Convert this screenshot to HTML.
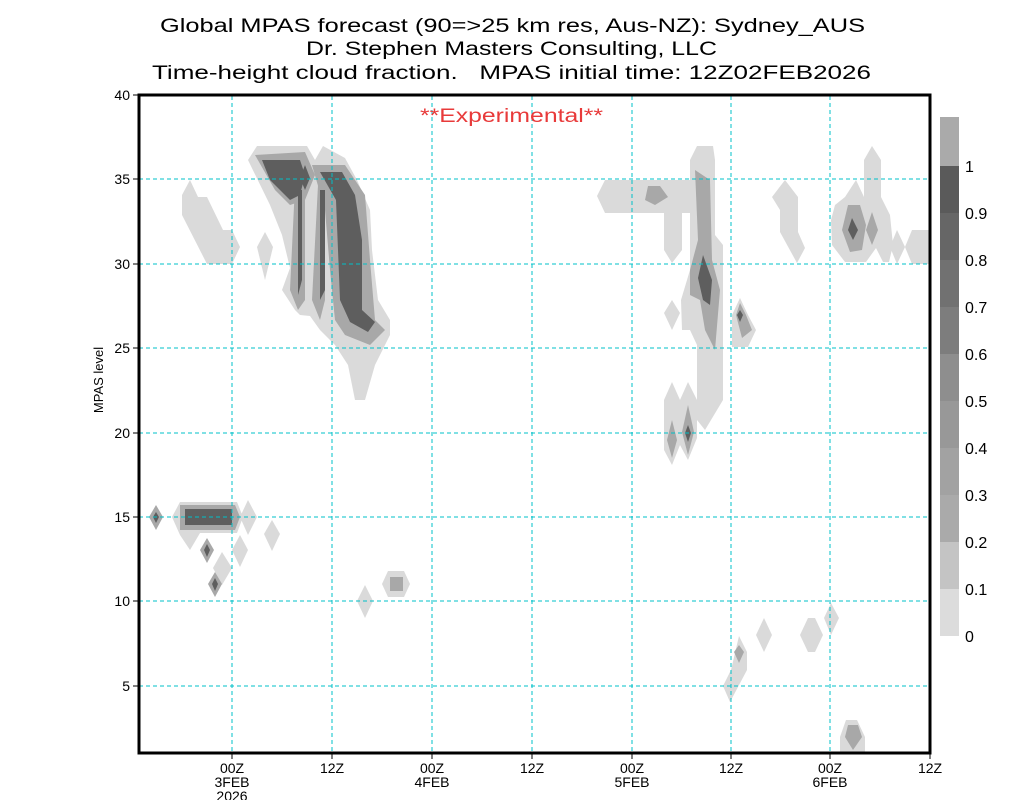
<!DOCTYPE html>
<html><head><meta charset="utf-8"><style>
body{margin:0;background:#fff;width:1024px;height:800px;overflow:hidden}
svg{display:block;font-family:"Liberation Sans",sans-serif}
</style></head><body>
<svg width="1024" height="800" viewBox="0 0 1024 800">
<g font-size="19" fill="#000">
<text x="160" y="32" textLength="705" lengthAdjust="spacingAndGlyphs">Global MPAS forecast (90=&gt;25 km res, Aus-NZ): Sydney_AUS</text>
<text x="306" y="55" textLength="411" lengthAdjust="spacingAndGlyphs">Dr. Stephen Masters Consulting, LLC</text>
<text x="152" y="79" textLength="719" lengthAdjust="spacingAndGlyphs" xml:space="preserve">Time-height cloud fraction.   MPAS initial time: 12Z02FEB2026</text>
</g>
<g stroke="none">
<g fill="#dadada">
<polygon points="182,195 190,180 198,197 207,197 223,230 232,230 240,247 232,264 207,264 182,215"/>
<polygon points="248,160 257,146 307,146 315,160 323,146 345,158 357,180 370,210 372,250 378,300 390,320 390,335 375,365 365,400 355,400 348,365 335,345 320,330 310,316 300,315 295,310 282,290 290,268 282,235 270,205"/>
<polygon points="265,232 273,247 265,280 257,247"/>
<polygon points="172,517 180,502 237,502 243,517 237,533 200,533 190,550 180,535"/>
<polygon points="248,500 257,517 248,535 240,517"/>
<polygon points="240,535 248,550 240,567 232,550"/>
<polygon points="222,552 232,568 222,585 213,568"/>
<polygon points="272,520 280,534 272,551 264,534"/>
<polygon points="365,585 373,601 365,618 357,601"/>
<polygon points="388,571 404,571 410,584 404,597 388,597 382,584"/>
<polygon points="597,196 605,180 690,180 690,213 682,213 682,250 672,263 664,250 664,213 605,213"/>
<polygon points="690,160 697,146 713,146 715,160 715,235 723,245 723,400 705,430 697,420 697,345 690,330 682,330 681,300 690,270 690,180"/>
<polygon points="672,300 680,313 672,330 664,313"/>
<polygon points="740,298 748,315 756,330 748,347 732,347 732,315"/>
<polygon points="664,400 672,382 680,400 688,382 697,400 697,438 688,460 680,445 672,465 664,450"/>
<polygon points="772,197 785,180 798,197 798,232 805,248 797,263 780,232 780,210"/>
<polygon points="835,205 845,197 856,180 864,197 864,160 872,146 881,160 881,197 890,215 893,245 889,262 883,262 876,248 866,262 845,262 832,245 831,220"/>
<polygon points="897,230 905,247 897,264 890,247"/>
<polygon points="912,230 930,230 930,264 912,264 905,247"/>
<polygon points="739,636 747,652 747,670 730,702 723,686 731,670"/>
<polygon points="764,618 772,635 764,652 756,635"/>
<polygon points="808,618 815,618 823,635 815,652 808,652 800,635"/>
<polygon points="831,603 839,618 831,635 824,618"/>
<polygon points="846,720 857,720 865,737 865,753 840,753 840,737"/>
<polygon points="620,190 630,180 650,180 655,196 645,208"/>
</g>
<g fill="#a8a8a8">
<polygon points="255,155 305,152 315,175 305,200 290,205 275,190"/>
<polygon points="312,165 345,165 365,195 370,260 375,320 385,330 370,345 345,335 335,320 330,270 325,210"/>
<polygon points="295,185 305,185 305,300 298,310 290,290"/>
<polygon points="318,185 325,185 325,300 320,320 312,300"/>
<polygon points="180,505 235,505 240,517 235,530 180,530"/>
<polygon points="156,505 163,517 156,530 149,517"/>
<polygon points="207,538 214,550 207,563 200,550"/>
<polygon points="215,572 222,584 215,597 208,584"/>
<polygon points="390,577 403,577 403,591 390,591"/>
<polygon points="695,170 710,180 712,260 720,290 715,350 705,330 700,300 690,295 690,270 698,240"/>
<polygon points="648,186 660,186 668,197 655,205 645,200"/>
<polygon points="740,303 746,315 752,330 742,338 736,315"/>
<polygon points="672,420 677,440 672,458 667,440"/>
<polygon points="688,405 694,432 688,455 682,432"/>
<polygon points="848,205 860,205 866,225 862,250 850,252 842,230"/>
<polygon points="872,212 878,230 872,245 866,230"/>
<polygon points="848,725 858,725 862,737 853,750 845,737"/>
<polygon points="739,645 744,652 739,663 734,652"/>
</g>
<g fill="#5e5e5e">
<polygon points="262,160 300,160 305,175 300,195 290,200 270,180"/>
<polygon points="305,165 310,178 305,190 300,178"/>
<polygon points="320,172 342,172 355,195 362,240 362,310 375,322 368,332 350,322 340,300 336,200"/>
<polygon points="298,190 302,190 302,280 298,295"/>
<polygon points="320,190 325,190 325,290 320,300"/>
<polygon points="185,509 232,509 232,525 185,525"/>
<polygon points="156,512 159,517 156,523 153,517"/>
<polygon points="207,544 210,550 207,557 204,550"/>
<polygon points="215,578 218,584 215,591 212,584"/>
<polygon points="703,255 712,280 710,305 703,300 698,278"/>
<polygon points="688,425 691,433 688,442 685,433"/>
<polygon points="852,218 858,230 853,240 848,230"/>
<polygon points="740,310 743,315 740,322 737,315"/>
</g>
</g>
<g stroke="#00c0c8" stroke-width="1" stroke-dasharray="4,3" fill="none">
<line x1="232" y1="96" x2="232" y2="753"/><line x1="332" y1="96" x2="332" y2="753"/>
<line x1="432" y1="96" x2="432" y2="753"/><line x1="532" y1="96" x2="532" y2="753"/>
<line x1="632" y1="96" x2="632" y2="753"/><line x1="731" y1="96" x2="731" y2="753"/>
<line x1="830" y1="96" x2="830" y2="753"/>
<line x1="139" y1="179" x2="930" y2="179"/><line x1="139" y1="264" x2="930" y2="264"/>
<line x1="139" y1="348" x2="930" y2="348"/><line x1="139" y1="433" x2="930" y2="433"/>
<line x1="139" y1="517" x2="930" y2="517"/><line x1="139" y1="601" x2="930" y2="601"/>
<line x1="139" y1="686" x2="930" y2="686"/>
</g>
<rect x="139" y="95" width="791" height="658" fill="none" stroke="#000" stroke-width="3"/>
<g stroke="#000" stroke-width="1">
<line x1="133" y1="95" x2="139" y2="95"/><line x1="133" y1="179" x2="139" y2="179"/><line x1="133" y1="264" x2="139" y2="264"/>
<line x1="133" y1="348" x2="139" y2="348"/><line x1="133" y1="433" x2="139" y2="433"/><line x1="133" y1="517" x2="139" y2="517"/>
<line x1="133" y1="601" x2="139" y2="601"/><line x1="133" y1="686" x2="139" y2="686"/>
<line x1="232" y1="753" x2="232" y2="759"/><line x1="332" y1="753" x2="332" y2="759"/><line x1="432" y1="753" x2="432" y2="759"/>
<line x1="532" y1="753" x2="532" y2="759"/><line x1="632" y1="753" x2="632" y2="759"/><line x1="731" y1="753" x2="731" y2="759"/>
<line x1="830" y1="753" x2="830" y2="759"/><line x1="930" y1="753" x2="930" y2="759"/>
</g>
<g font-size="14" text-anchor="end">
<text x="130" y="100">40</text><text x="130" y="184">35</text><text x="130" y="269">30</text><text x="130" y="353">25</text>
<text x="130" y="438">20</text><text x="130" y="522">15</text><text x="130" y="606">10</text><text x="130" y="691">5</text>
</g>
<text transform="translate(103,380) rotate(-90)" font-size="13" text-anchor="middle">MPAS level</text>
<g font-size="14" text-anchor="middle">
<text x="232" y="773">00Z</text><text x="232" y="787">3FEB</text><text x="232" y="801">2026</text>
<text x="332" y="773">12Z</text><text x="432" y="773">00Z</text><text x="432" y="787">4FEB</text>
<text x="532" y="773">12Z</text><text x="632" y="773">00Z</text><text x="632" y="787">5FEB</text>
<text x="731" y="773">12Z</text><text x="830" y="773">00Z</text><text x="830" y="787">6FEB</text>
<text x="930" y="773">12Z</text>
</g>
<text x="420" y="122" font-size="19" fill="#e83a3a" textLength="183" lengthAdjust="spacingAndGlyphs">**Experimental**</text>
<g>
<rect x="940" y="117" width="19" height="49" fill="#aaaaaa"/>
<rect x="940" y="166" width="19" height="47" fill="#5a5a5a"/>
<rect x="940" y="213" width="19" height="47" fill="#666666"/>
<rect x="940" y="260" width="19" height="47" fill="#717171"/>
<rect x="940" y="307" width="19" height="47" fill="#7d7d7d"/>
<rect x="940" y="354" width="19" height="47" fill="#8e8e8e"/>
<rect x="940" y="401" width="19" height="47" fill="#989898"/>
<rect x="940" y="448" width="19" height="47" fill="#a2a2a2"/>
<rect x="940" y="495" width="19" height="47" fill="#aaaaaa"/>
<rect x="940" y="542" width="19" height="47" fill="#c4c4c4"/>
<rect x="940" y="589" width="19" height="47" fill="#dcdcdc"/>
</g>
<g font-size="16">
<text x="965" y="172">1</text><text x="965" y="219">0.9</text><text x="965" y="266">0.8</text><text x="965" y="313">0.7</text>
<text x="965" y="360">0.6</text><text x="965" y="407">0.5</text><text x="965" y="454">0.4</text><text x="965" y="501">0.3</text>
<text x="965" y="548">0.2</text><text x="965" y="595">0.1</text><text x="965" y="642">0</text>
</g>
</svg>
</body></html>
